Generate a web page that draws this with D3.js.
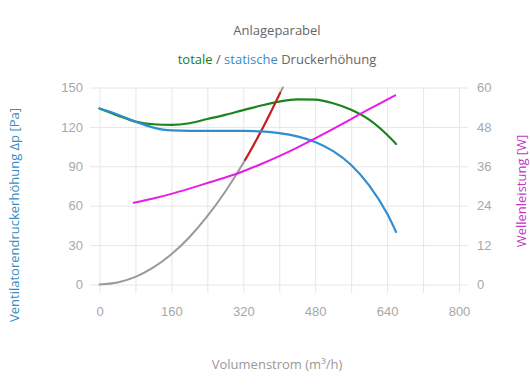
<!DOCTYPE html>
<html>
<head>
<meta charset="utf-8">
<script src="https://cdn.jsdelivr.net/npm/d3@7"></script>
<style>
  html, body { margin: 0; padding: 0; background: #fff; }
  svg { display: block; font-family: "Open Sans", "Noto Sans", sans-serif; }
</style>
</head>
<body>
<svg id="chart" width="530" height="390"></svg>
<script>
// ---- data ----
const xTicks = [0, 160, 320, 480, 640, 800];
const xGrid = [0, 80, 160, 240, 320, 400, 480, 560, 640, 720, 800];
const yLeftTicks = [0, 30, 60, 90, 120, 150];
const yRightTicks = [0, 12, 24, 36, 48, 60];

const flowStatic = [0, 40, 80, 120, 160, 200, 240, 280, 320, 360, 400, 440, 480, 520, 560, 600, 640, 660];
const staticPressure = [134, 129.5, 124, 119.5, 117.3, 117, 117, 117, 117, 116.6, 115.3, 112.8, 108.5, 101.5, 91, 75.5, 54, 40];

const flowTotal = [0, 40, 80, 120, 160, 200, 240, 280, 320, 360, 400, 440, 480, 520, 560, 600, 640, 660];
const totalPressure = [134, 128.7, 124, 122, 121.6, 122.8, 126, 129.2, 132.8, 136.3, 139.3, 141, 140.8, 138, 133, 125.5, 114, 107];

const flowPower = [76, 120, 160, 200, 240, 280, 320, 360, 400, 440, 480, 520, 560, 600, 640, 658];
const shaftPower = [24.9, 26.2, 27.6, 29.2, 30.9, 32.6, 34.5, 36.7, 39.1, 41.7, 44.5, 47.4, 50.4, 53.4, 56.3, 57.6];

const flowSystem = [0, 40, 80, 120, 160, 200, 240, 280, 320, 360, 400, 408];
const systemPressure = [0, 1.5, 5.8, 13, 23, 36, 52, 70.8, 92.5, 117, 144.5, 150];

const flowRange = [324, 340, 360, 380, 402];
const rangePressure = [94.8, 104.4, 117, 130.4, 145.9];

// ---- layout ----
const svg = d3.select("#chart");
const pLeft = 99.5, pRight = 459, pTop = 87.5, pBottom = 284.5;
const x = d3.scaleLinear().domain([0, 800]).range([pLeft, pRight]);
const y = d3.scaleLinear().domain([0, 150]).range([pBottom, pTop]);
const yR = d3.scaleLinear().domain([0, 60]).range([pBottom, pTop]);

const gridColor = "#e6e6e6";
const tickText = "#a8a8a8";

// horizontal grid + left labels
const gL = svg.append("g").attr("transform", `translate(90,0)`)
  .call(d3.axisLeft(y).tickValues(yLeftTicks).tickSizeInner(-(pRight - 90 + 9)).tickSizeOuter(0).tickPadding(7));
gL.select(".domain").remove();
gL.selectAll("line").attr("stroke", gridColor);
gL.selectAll("text").attr("fill", tickText).style("font-size", "13px");

// vertical grid + bottom labels
const gB = svg.append("g").attr("transform", `translate(0,293)`)
  .call(d3.axisBottom(x).tickValues(xGrid).tickSizeInner(-(293 - pTop)).tickSizeOuter(0).tickPadding(14)
    .tickFormat(d => xTicks.includes(d) ? d : ""));
gB.select(".domain").remove();
gB.selectAll("line").attr("stroke", gridColor);
gB.selectAll("text").attr("fill", tickText).style("font-size", "13px");

// right labels
const gR = svg.append("g").attr("transform", `translate(468,0)`)
  .call(d3.axisRight(yR).tickValues(yRightTicks).tickSize(0).tickPadding(9));
gR.select(".domain").remove();
gR.selectAll("text").attr("fill", tickText).style("font-size", "13px");

// ---- lines ----
function drawLine(xs, ys, yScale, color, width) {
  const pts = xs.map((v, i) => [v, ys[i]]);
  const line = d3.line().x(d => x(d[0])).y(d => yScale(d[1])).curve(d3.curveMonotoneX);
  svg.append("path").datum(pts).attr("d", line)
    .attr("fill", "none").attr("stroke", color).attr("stroke-width", width)
    .attr("stroke-linejoin", "round").attr("stroke-linecap", "round");
}
drawLine(flowSystem, systemPressure, y, "#9a9a9a", 2);
drawLine(flowTotal, totalPressure, y, "#1b841b", 2.2);
drawLine(flowRange, rangePressure, y, "#d01818", 2);
drawLine(flowStatic, staticPressure, y, "#2f8ed0", 2.2);
drawLine(flowPower, shaftPower, yR, "#e81ce8", 2);

// ---- titles ----
svg.append("text").attr("x", 277).attr("y", 35).attr("text-anchor", "middle")
  .attr("fill", "#666").style("font-size", "13px").text("Anlageparabel");

const sub = svg.append("text").attr("x", 277).attr("y", 64).attr("text-anchor", "middle")
  .style("font-size", "13px");
sub.append("tspan").attr("fill", "#1b7a1b").text("totale");
sub.append("tspan").attr("fill", "#666").text(" / ");
sub.append("tspan").attr("fill", "#3a8cc4").text("statische");
sub.append("tspan").attr("fill", "#666").text(" Druckerhöhung");

svg.append("text").attr("x", 277).attr("y", 369).attr("text-anchor", "middle")
  .attr("fill", "#999").style("font-size", "13px").text("Volumenstrom (m³/h)");

svg.append("text").attr("transform", "translate(19,215) rotate(-90)").attr("text-anchor", "middle")
  .attr("fill", "#3a8cc4").style("font-size", "13px").text("Ventilatorendruckerhöhung Δp [Pa]");

svg.append("text").attr("transform", "translate(526,191) rotate(-90)").attr("text-anchor", "middle")
  .attr("fill", "#c833c8").style("font-size", "13px").text("Wellenleistung [W]");
</script>
</body>
</html>
